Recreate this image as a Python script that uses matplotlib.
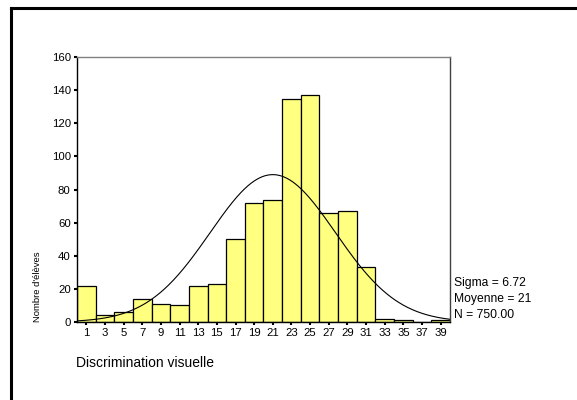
import numpy as np
import matplotlib
matplotlib.use("Agg")
import matplotlib.pyplot as plt
from matplotlib.lines import Line2D

plt.rcParams["font.family"] = ["Liberation Sans", "DejaVu Sans"]

# =========================
# Data
# =========================

bin_centers = [1, 3, 5, 7, 9, 11, 13, 15, 17, 19, 21, 23, 25, 27, 29, 31, 33, 35, 37, 39]
counts = [22, 4, 6, 14, 11, 10, 22, 23, 50, 72, 74, 135, 137, 66, 67, 33, 2, 1, 0, 1]

sigma = 6.72
mean = 21
n_total = 750
bin_width = 2

y_ticks = [0, 20, 40, 60, 80, 100, 120, 140, 160]

# =========================
# Figure
# =========================

fig = plt.figure(figsize=(5.77, 4.0), dpi=100)
ax = fig.add_axes([0.1334, 0.195, 0.6465, 0.662])

ax.bar(bin_centers, counts, width=bin_width, color="#FFFF80",
       edgecolor="black", linewidth=0.9, zorder=2)

# fitted normal curve
xs = np.linspace(0, 40, 400)
ys = n_total * bin_width / (sigma * np.sqrt(2 * np.pi)) * np.exp(-0.5 * ((xs - mean) / sigma) ** 2)
ax.plot(xs, ys, color="black", linewidth=0.8, zorder=3)

ax.set_xlim(0, 40)
ax.set_ylim(0, 160)
ax.set_xticks(bin_centers)
ax.set_yticks(y_ticks)
ax.tick_params(axis="both", labelsize=8.2, colors="black", pad=2)
ax.tick_params(axis="y", length=2.5, width=1.5)
ax.tick_params(axis="x", length=2, width=1.5)

ax.spines["left"].set_color("black")
ax.spines["bottom"].set_color("black")
ax.spines["top"].set_color("#808080")
ax.spines["right"].set_color("#404040")
for s in ax.spines.values():
    s.set_linewidth(1.0)

fig.text(37 / 577, 1 - 322 / 400, "Nombre d'élèves", fontsize=6.8, rotation=90,
         ha="center", va="bottom")

fig.text(76 / 577, 1 - 363 / 400, "Discrimination visuelle", fontsize=10, ha="left", va="center")

fig.text(454 / 577, 1 - 283 / 400, "Sigma = %.2f" % sigma, fontsize=8.7, ha="left", va="center")
fig.text(454 / 577, 1 - 299 / 400, "Moyenne = %d" % mean, fontsize=8.7, ha="left", va="center")
fig.text(454 / 577, 1 - 315 / 400, "N = %.2f" % n_total, fontsize=8.7, ha="left", va="center")

# outer frame (left and top edges)
fig.add_artist(Line2D([11 / 577, 1], [1 - 8 / 400, 1 - 8 / 400], color="black", linewidth=2.2,
                      transform=fig.transFigure))
fig.add_artist(Line2D([11 / 577, 11 / 577], [0, 1 - 8 / 400], color="black", linewidth=2.2,
                      transform=fig.transFigure))

fig.savefig("out.png", dpi=100)
